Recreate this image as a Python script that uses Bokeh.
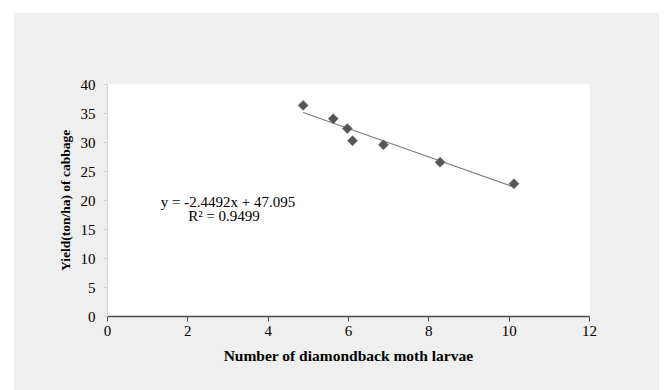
import math
from bokeh.plotting import figure
from bokeh.models import Range1d, FixedTicker, Label
from bokeh.embed import file_html
from bokeh.resources import INLINE

# Data
larvae = [4.87, 5.62, 5.97, 6.10, 6.87, 8.28, 10.12]
yield_t = [36.4, 34.1, 32.4, 30.3, 29.6, 26.6, 22.9]
slope = -2.4492
intercept = 47.095
r2 = 0.9499
x_ticks = [0, 2, 4, 6, 8, 10, 12]
y_ticks = [0, 5, 10, 15, 20, 25, 30, 35, 40]

FONT = "Liberation Serif"

p = figure(width=646, height=378, output_backend="svg", toolbar_location=None,
           x_range=Range1d(0, 12), y_range=Range1d(0, 40),
           min_border_left=94, min_border_right=70, min_border_top=72, min_border_bottom=74,
           margin=(12, 0, 0, 13))
p.background_fill_color = "white"
p.border_fill_color = "#efefef"
p.outline_line_color = None
p.xgrid.visible = False
p.ygrid.visible = False

# axes
p.xaxis.ticker = FixedTicker(ticks=x_ticks)
p.yaxis.ticker = FixedTicker(ticks=y_ticks)
for ax in (p.xaxis[0], p.yaxis[0]):
    ax.major_label_text_font = FONT
    ax.major_label_text_font_size = "15px"
    ax.major_label_text_color = "black"
    ax.axis_label_text_font = FONT
    ax.axis_label_text_font_style = "bold"
    ax.axis_label_text_color = "black"
    ax.minor_tick_line_color = None
    ax.major_tick_in = 0

p.xaxis.axis_label = "Number of diamondback moth larvae"
p.xaxis.axis_label_text_font_size = "15.5px"
p.xaxis.axis_line_color = "#4a4a4a"
p.xaxis.axis_line_width = 1.5
p.xaxis.major_tick_line_color = "#4a4a4a"
p.xaxis.major_tick_out = 5
p.xaxis.major_label_standoff = 4
p.xaxis.axis_label_standoff = 8

p.yaxis.axis_label = "Yield(ton/ha) of cabbage"
p.yaxis.axis_label_text_font_size = "13.5px"
p.yaxis.axis_line_color = "#d0d0d0"
p.yaxis.major_tick_line_color = "#d0d0d0"
p.yaxis.major_tick_out = 4
p.yaxis.major_label_standoff = 8
p.yaxis.axis_label_standoff = 5

# trendline across data range
xmin, xmax = min(larvae), max(larvae)
p.line([xmin, xmax], [slope * xmin + intercept, slope * xmax + intercept],
       line_color="#7f7f7f", line_width=1.2)

# points
p.scatter(larvae, yield_t, marker="square", size=7, angle=math.pi / 4,
          fill_color="#555555", line_color="#6a6a6a", line_width=0.8)

# equation label
eq1 = Label(x=3.0, y=19.7, text=f"y = {slope}x + {intercept}", text_font=FONT,
            text_font_size="15px", text_align="center", text_baseline="middle",
            text_color="black")
eq2 = Label(x=2.9, y=17.4, text=f"R\u00b2 = {r2}", text_font=FONT,
            text_font_size="15px", text_align="center", text_baseline="middle",
            text_color="black")
p.add_layout(eq1)
p.add_layout(eq2)

open("out.html", "w").write(file_html(p, INLINE))
